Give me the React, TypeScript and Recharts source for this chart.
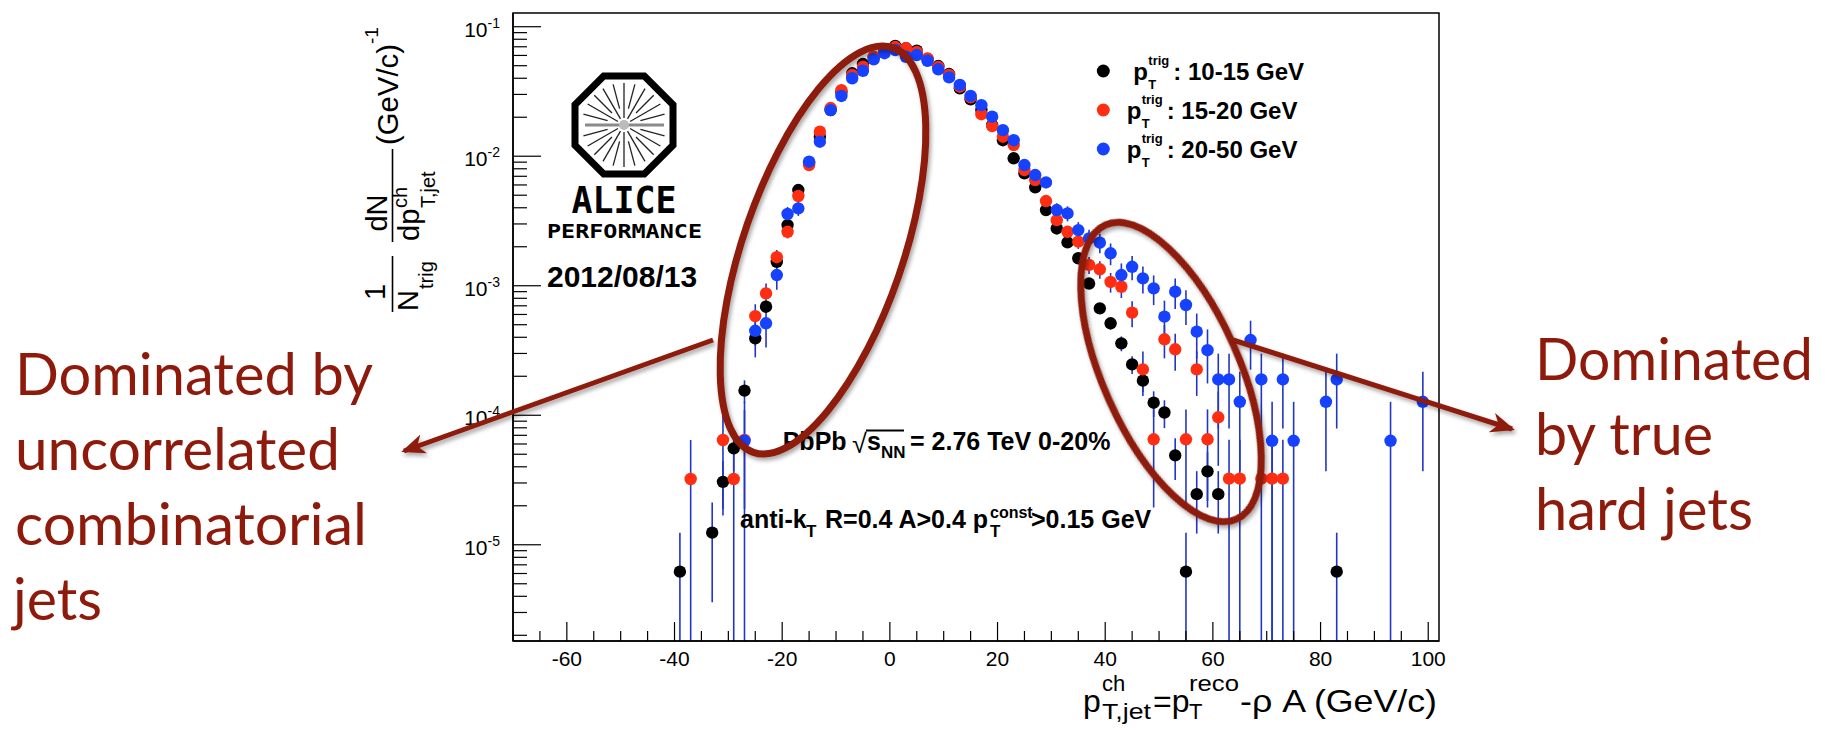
import React from 'react';
import { ScatterChart, Scatter, XAxis, YAxis, ErrorBar } from 'recharts';

const W = 1832;
const H = 734;
const X_MIN = -70;
const X_MAX = 102;
const Y_MIN = 1.807e-6;
const Y_MAX = 0.1276;

const ROOTF = "'Liberation Sans', Arial, Helvetica, sans-serif";
const NOTEF = "Lato, 'Open Sans', sans-serif";
const DARKRED = '#8e1a0c';
const C_BLACK = '#000000';
const C_RED = '#ff2e12';
const C_BLUE = '#1541ff';
const C_ERR = '#2136c4';

// ---- tick values ----
const xTicks = [-70, -65, -60, -55, -50, -45, -40, -35, -30, -25, -20, -15, -10, -5, 0, 5, 10, 15, 20, 25, 30, 35, 40, 45, 50, 55, 60, 65, 70, 75, 80, 85, 90, 95, 100];
const xLabelTicks = [-60, -40, -20, 0, 20, 40, 60, 80, 100];
const yTicks = [
  2e-6, 3e-6, 4e-6, 5e-6, 6e-6, 7e-6, 8e-6, 9e-6,
  1e-5, 2e-5, 3e-5, 4e-5, 5e-5, 6e-5, 7e-5, 8e-5, 9e-5,
  1e-4, 2e-4, 3e-4, 4e-4, 5e-4, 6e-4, 7e-4, 8e-4, 9e-4,
  1e-3, 2e-3, 3e-3, 4e-3, 5e-3, 6e-3, 7e-3, 8e-3, 9e-3,
  1e-2, 2e-2, 3e-2, 4e-2, 5e-2, 6e-2, 7e-2, 8e-2, 9e-2,
  1e-1,
];
const yMajorTicks = [1e-5, 1e-4, 1e-3, 1e-2, 1e-1];
const yMajorExp = ['-5', '-4', '-3', '-2', '-1'];

// ---- series: p_T^trig 10-15 GeV (black) ----
const blackX = [
  -39, -33, -31, -29, -27, -25, -23, -21, -19, -17, -15, -13, -11, -9, -7, -5, -3, -1,
  1, 3, 5, 7, 9, 11, 13, 15, 17, 19, 21, 23, 25, 27, 29, 31, 33, 35, 37, 39, 41, 43, 45, 47, 49, 51, 53, 55, 57, 59, 61,
  83,
];
const blackY = [
  6.2e-6, 1.24e-5, 3.06e-5, 5.55e-5, 1.55e-4, 3.93e-4, 6.89e-4, 1.53e-3, 2.94e-3, 5.48e-3, 8.87e-3, 1.415e-2, 2.27e-2, 3.13e-2, 4.37e-2, 5.15e-2, 5.83e-2, 6.53e-2,
  7.1e-2, 6.81e-2, 6.53e-2, 5.63e-2, 4.97e-2, 4.31e-2, 3.34e-2, 2.75e-2, 2.27e-2, 1.74e-2, 1.33e-2, 9.64e-3, 7.38e-3, 5.75e-3, 3.84e-3, 2.77e-3, 2.16e-3, 1.63e-3, 1.04e-3, 6.69e-4, 5.13e-4, 3.59e-4, 2.47e-4, 1.85e-4, 1.25e-4, 1.05e-4, 4.9e-5, 6.2e-6, 2.46e-5, 3.69e-5, 2.46e-5,
  6.2e-6,
];
const blackErr = [
  6.2e-6, 8.8e-6, 1.38e-5, 1.85e-5, 3.1e-5, 4.9e-5, 6.5e-5, 9.7e-5, 1.35e-4, 1.84e-4, 2.3e-4, 3e-4, 3.75e-4, 4.4e-4, 5.2e-4, 5.7e-4, 6e-4, 6.4e-4,
  6.6e-4, 6.5e-4, 6.4e-4, 5.9e-4, 5.6e-4, 5.2e-4, 4.6e-4, 4.1e-4, 3.75e-4, 3.3e-4, 2.9e-4, 2.4e-4, 2.1e-4, 1.9e-4, 1.54e-4, 1.31e-4, 1.16e-4, 1e-4, 8e-5, 6.4e-5, 5.6e-5, 4.7e-5, 3.9e-5, 3.4e-5, 2.8e-5, 2.55e-5, 1.74e-5, 6.2e-6, 1.24e-5, 1.51e-5, 1.24e-5,
  6.2e-6,
];

// ---- series: p_T^trig 15-20 GeV (red) ----
const redX = [
  -37, -31, -29, -27, -25, -23, -21, -19, -17, -15, -13, -11, -9, -7, -5, -3, -1,
  1, 3, 5, 7, 9, 11, 13, 15, 17, 19, 21, 23, 25, 27, 29, 31, 33, 35, 37, 39, 41, 43, 45, 47, 49, 51, 53, 55, 57, 59, 61,
  63, 65, 69, 71, 73,
];
const redY = [
  3.22e-5, 6.44e-5, 3.22e-5, 6.44e-5, 5.83e-4, 8.73e-4, 1.66e-3, 2.61e-3, 4.93e-3, 8.55e-3, 1.545e-2, 2.355e-2, 3.24e-2, 4.24e-2, 4.91e-2, 5.86e-2, 6.69e-2,
  6.97e-2, 6.81e-2, 6.38e-2, 5.7e-2, 4.89e-2, 4.24e-2, 3.44e-2, 2.85e-2, 2.11e-2, 1.71e-2, 1.415e-2, 1.22e-2, 7.82e-3, 6.55e-3, 4.51e-3, 3.21e-3, 2.61e-3, 2.19e-3, 1.45e-3, 1.34e-3, 1.07e-3, 9.82e-4, 6.19e-4, 2.26e-4, 6.52e-5, 3.86e-4, 3.23e-4, 6.52e-5, 2.26e-4, 6.52e-5, 9.64e-5,
  3.24e-5, 3.24e-5, 3.24e-5, 3.24e-5, 3.24e-5,
];
const redErr = [
  3.22e-5, 4.55e-5, 3.22e-5, 4.55e-5, 1.37e-4, 1.68e-4, 2.31e-4, 2.9e-4, 3.98e-4, 5.2e-4, 7.1e-4, 8.7e-4, 1.02e-3, 1.17e-3, 1.26e-3, 1.37e-3, 1.47e-3,
  1.5e-3, 1.48e-3, 1.43e-3, 1.35e-3, 1.25e-3, 1.17e-3, 1.05e-3, 9.6e-4, 8.2e-4, 7.4e-4, 6.75e-4, 6.3e-4, 5e-4, 4.6e-4, 3.8e-4, 3.2e-4, 2.9e-4, 2.66e-4, 2.16e-4, 2.08e-4, 1.86e-4, 1.78e-4, 1.41e-4, 8.5e-5, 4.58e-5, 1.11e-4, 1.02e-4, 4.58e-5, 8.5e-5, 4.58e-5, 5.57e-5,
  3.24e-5, 3.24e-5, 3.24e-5, 3.24e-5, 3.24e-5,
];

// ---- series: p_T^trig 20-50 GeV (blue) ----
const blueX = [
  -27, -25, -23, -21, -19, -17, -15, -13, -11, -9, -7, -5, -3, -1,
  1, 3, 5, 7, 9, 11, 13, 15, 17, 19, 21, 23, 25, 27, 29, 31, 33, 35, 37, 39, 41, 43, 45, 47, 49, 51, 53, 55, 57, 59, 61, 63, 65, 67, 69, 71, 73, 75,
  81, 83, 93, 99,
];
const blueY = [
  6.35e-5, 4.49e-4, 5.13e-4, 1.21e-3, 3.58e-3, 3.96e-3, 9.07e-3, 1.294e-2, 2.27e-2, 2.92e-2, 4e-2, 4.57e-2, 5.6e-2, 6.24e-2,
  6.61e-2, 5.86e-2, 6.04e-2, 5.46e-2, 4.69e-2, 4.06e-2, 3.55e-2, 2.92e-2, 2.48e-2, 2.02e-2, 1.59e-2, 1.33e-2, 8.55e-3, 7.16e-3, 6.28e-3, 3.84e-3, 3.62e-3, 2.69e-3, 2.32e-3, 2.15e-3, 1.78e-3, 1.21e-3, 1.4e-3, 1.14e-3, 9.55e-4, 5.77e-4, 8.99e-4, 7.1e-4, 4.42e-4, 3.18e-4, 1.89e-4, 1.89e-4, 1.27e-4, 3.81e-4, 1.89e-4, 6.35e-5, 1.89e-4, 6.35e-5,
  1.27e-4, 1.89e-4, 6.35e-5, 1.27e-4,
];
const blueErr = [
  6.35e-5, 1.69e-4, 1.8e-4, 2.77e-4, 4.77e-4, 5e-4, 7.6e-4, 9.1e-4, 1.2e-3, 1.36e-3, 1.59e-3, 1.7e-3, 1.89e-3, 1.99e-3,
  2.05e-3, 1.93e-3, 1.96e-3, 1.86e-3, 1.73e-3, 1.6e-3, 1.5e-3, 1.36e-3, 1.25e-3, 1.13e-3, 1e-3, 9.2e-4, 7.4e-4, 6.7e-4, 6.3e-4, 4.9e-4, 4.8e-4, 4.1e-4, 3.8e-4, 3.7e-4, 3.4e-4, 2.77e-4, 2.98e-4, 2.69e-4, 2.46e-4, 1.91e-4, 2.39e-4, 2.12e-4, 1.68e-4, 1.42e-4, 1.1e-4, 1.1e-4, 9e-5, 1.56e-4, 1.1e-4, 6.35e-5, 1.1e-4, 6.35e-5,
  9e-5, 1.1e-4, 6.35e-5, 9e-5,
];

const legendLabels = [': 10-15 GeV', ': 15-20 GeV', ': 20-50 GeV'];

type Pt = { x: number; y: number; e: [number, number] };
const buildSeries = (xs: number[], ys: number[], es: number[]): Pt[] =>
  xs.map((x, i) => ({ x, y: ys[i], e: [Math.min(es[i], ys[i] - Y_MIN), es[i]] }));

const blackData = buildSeries(blackX, blackY, blackErr);
const redData = buildSeries(redX, redY, redErr);
const blueData = buildSeries(blueX, blueY, blueErr);

const dot = (color: string) => (p: any) =>
  p.cx == null || p.cy == null ? <g /> : <circle cx={p.cx} cy={p.cy} r={6.2} fill={color} />;

const XTick = (p: any) => {
  const v = p.payload.value;
  const major = xLabelTicks.indexOf(v) >= 0;
  return (
    <g>
      <line x1={p.x} x2={p.x} y1={p.y} y2={p.y - (major ? 19 : 10)} stroke="#000" strokeWidth={1.2} />
      {major && (
        <text x={p.x} y={p.y + 25} textAnchor="middle" fontSize={21} fontFamily={ROOTF} fill="#000">
          {v}
        </text>
      )}
    </g>
  );
};

const YTick = (p: any) => {
  const v = p.payload.value;
  const idx = yMajorTicks.findIndex((m) => Math.abs(m - v) / m < 1e-6);
  const major = idx >= 0;
  return (
    <g>
      <line x1={p.x} x2={p.x + (major ? 28 : 14)} y1={p.y} y2={p.y} stroke="#000" strokeWidth={1.2} />
      {major && (
        <text x={p.x - 13} y={p.y + 10} textAnchor="end" fontSize={21} fontFamily={ROOTF} fill="#000">
          10<tspan dy={-9} fontSize={14}>{yMajorExp[idx]}</tspan>
        </text>
      )}
    </g>
  );
};

const RT = ({ X, Y, size, anchor, len, children }: any) => (
  <text
    transform={`translate(${X},${Y}) rotate(-90)`}
    fontSize={size}
    textAnchor={anchor || 'start'}
    fontFamily={ROOTF}
    fill="#000"
    {...(len ? { textLength: len, lengthAdjust: 'spacingAndGlyphs' } : {})}
  >
    {children}
  </text>
);

const Logo = () => {
  const cx = 624;
  const cy = 125;
  const R = 53;
  const pts: string[] = [];
  for (let k = 0; k < 8; k++) {
    const a = ((22.5 + 45 * k) * Math.PI) / 180;
    pts.push(`${(cx + R * Math.cos(a)).toFixed(1)},${(cy + R * Math.sin(a)).toFixed(1)}`);
  }
  const spokes: React.ReactNode[] = [];
  for (let k = 0; k < 24; k++) {
    if (k === 0 || k === 12) continue;
    const a = (k * 15 * Math.PI) / 180;
    const r0 = k % 2 === 0 ? 7 : 17;
    const r1 = 42;
    spokes.push(
      <line
        key={k}
        x1={cx + r0 * Math.cos(a)}
        y1={cy + r0 * Math.sin(a)}
        x2={cx + r1 * Math.cos(a)}
        y2={cy + r1 * Math.sin(a)}
        stroke="#222"
        strokeWidth={1.3}
      />
    );
  }
  return (
    <g>
      <polygon points={pts.join(' ')} fill="#fff" stroke="#000" strokeWidth={7} />
      {spokes}
      <line x1={585} x2={664} y1={cy} y2={cy} stroke="#8a8a8a" strokeWidth={3} />
      <circle cx={cx} cy={cy} r={5} fill="#bbb" />
      <text x={624} y={213} textAnchor="middle" fontSize={38} fontWeight="bold" fontFamily="'DejaVu Sans Mono', monospace" textLength={105} lengthAdjust="spacingAndGlyphs" fill="#000">
        ALICE
      </text>
      <text x={624.5} y={238} textAnchor="middle" fontSize={19} fontWeight="bold" fontFamily="'DejaVu Sans Mono', monospace" textLength={155} lengthAdjust="spacingAndGlyphs" fill="#000">
        PERFORMANCE
      </text>
      <text x={547} y={287} fontSize={30} fontWeight="bold" fontFamily={ROOTF} fill="#000">
        2012/08/13
      </text>
    </g>
  );
};

const Overlay = () => {
  const legendY = [80, 119, 158];
  const legendColors = [C_BLACK, C_RED, C_BLUE];
  return (
    <svg width={W} height={H} style={{ position: 'absolute', left: 0, top: 0 }}>
      <defs>
        <filter id="shadow" x="-20%" y="-20%" width="140%" height="140%">
          <feDropShadow dx="2" dy="3" stdDeviation="2" floodColor="#000" floodOpacity="0.35" />
        </filter>
        <marker id="ahead" markerUnits="userSpaceOnUse" markerWidth="26" markerHeight="22" refX="21" refY="10" orient="auto">
          <path d="M0,0 L24,10 L0,20 L7,10 Z" fill={DARKRED} />
        </marker>
      </defs>

      {/* frame */}
      <rect x={513} y={13} width={926} height={628} fill="none" stroke="#000" strokeWidth={1.5} />

      {/* y-axis title: 1/N_trig dN/dp^ch_T,jet (GeV/c)^-1 */}
      <RT X={385} Y={292} size={29} anchor="middle">1</RT>
      <line x1={392.5} x2={392.5} y1={256} y2={312} stroke="#000" strokeWidth={1.6} />
      <RT X={418} Y={311} size={29}>N</RT>
      <RT X={433} Y={289} size={20}>trig</RT>
      <RT X={387} Y={213} size={29} anchor="middle">dN</RT>
      <line x1={392.5} x2={392.5} y1={149} y2={242} stroke="#000" strokeWidth={1.6} />
      <RT X={419} Y={241} size={29}>dp</RT>
      <RT X={407} Y={208} size={20}>ch</RT>
      <RT X={435} Y={208} size={20}>T,jet</RT>
      <RT X={398} Y={145} size={29} len={101}>(GeV/c)</RT>
      <RT X={378} Y={44} size={19}>-1</RT>

      {/* x-axis title */}
      <g fontFamily={ROOTF} fill="#000">
        <text x={1083} y={712} fontSize={32}>p</text>
        <text x={1102} y={691} fontSize={22}>ch</text>
        <text x={1102} y={719} fontSize={22} textLength={49} lengthAdjust="spacingAndGlyphs">T,jet</text>
        <text x={1153} y={712} fontSize={32}>=p</text>
        <text x={1189} y={691} fontSize={22} textLength={50} lengthAdjust="spacingAndGlyphs">reco</text>
        <text x={1189} y={719} fontSize={22}>T</text>
        <text x={1240} y={712} fontSize={32} textLength={197} lengthAdjust="spacingAndGlyphs">-ρ A (GeV/c)</text>
      </g>

      <Logo />

      {/* legend */}
      {legendColors.map((c, i) => (
        <circle key={'lc' + i} cx={1103.3} cy={legendY[i] - 9} r={6.5} fill={c} />
      ))}
      {legendLabels.map((lab, i) => {
        const x0 = i === 0 ? 1133.3 : 1126.7;
        const y0 = legendY[i];
        return (
          <g key={'lt' + i} fontFamily={ROOTF} fontWeight="bold" fill="#000">
            <text x={x0} y={y0} fontSize={24}>p</text>
            <text x={x0 + 15} y={y0 - 15} fontSize={13}>trig</text>
            <text x={x0 + 15} y={y0 + 9} fontSize={13}>T</text>
            <text x={x0 + 40} y={y0} fontSize={24}>{lab}</text>
          </g>
        );
      })}

      {/* system annotations */}
      <g fontFamily={ROOTF} fontWeight="bold" fill="#000">
        <text x={782.7} y={450} fontSize={25}>PbPb</text>
        <text x={852} y={453} fontSize={27} fontWeight="normal">√</text>
        <line x1={866} x2={904} y1={430.5} y2={430.5} stroke="#000" strokeWidth={1.8} />
        <text x={867} y={450} fontSize={25}>s</text>
        <text x={881} y={458} fontSize={17}>NN</text>
        <text x={910} y={450} fontSize={25}>= 2.76 TeV 0-20%</text>

        <text x={740} y={528} fontSize={25}>anti-k</text>
        <text x={806} y={537} fontSize={17}>T</text>
        <text x={825} y={528} fontSize={25}>R=0.4 A&gt;0.4 p</text>
        <text x={990} y={518} fontSize={16}>const</text>
        <text x={990} y={537} fontSize={17}>T</text>
        <text x={1031} y={528} fontSize={25}>&gt;0.15 GeV</text>
      </g>

      {/* highlight ellipses and arrows */}
      <g filter="url(#shadow)">
        <ellipse cx={823} cy={250} rx={80} ry={214} transform="rotate(19 823 250)" fill="none" stroke={DARKRED} strokeWidth={7} />
        <ellipse cx={1171} cy={372} rx={68} ry={161} transform="rotate(-24 1171 372)" fill="none" stroke={DARKRED} strokeWidth={7} />
        <line x1={713} y1={340} x2={404} y2={451} stroke={DARKRED} strokeWidth={5} markerEnd="url(#ahead)" />
        <line x1={1233} y1={340} x2={1512} y2={429} stroke={DARKRED} strokeWidth={5} markerEnd="url(#ahead)" />
      </g>

      {/* side notes */}
      <g fontFamily={NOTEF} fill={DARKRED} fontSize={58}>
        <text x={15} y={395} textLength={358} lengthAdjust="spacingAndGlyphs">Dominated by</text>
        <text x={15} y={470} textLength={325} lengthAdjust="spacingAndGlyphs">uncorrelated</text>
        <text x={15} y={545} textLength={352} lengthAdjust="spacingAndGlyphs">combinatorial</text>
        <text x={13} y={620} textLength={89} lengthAdjust="spacingAndGlyphs">jets</text>
        <text x={1535} y={380} textLength={278} lengthAdjust="spacingAndGlyphs">Dominated</text>
        <text x={1535} y={455} textLength={178} lengthAdjust="spacingAndGlyphs">by true</text>
        <text x={1535} y={530} textLength={218} lengthAdjust="spacingAndGlyphs">hard jets</text>
      </g>
    </svg>
  );
};

export default function App() {
  return (
    <div style={{ position: 'absolute', left: 0, top: 0, width: W, height: H, background: '#fff', overflow: 'hidden' }}>
      <div style={{ position: 'absolute', left: 0, top: 0 }}>
        <ScatterChart width={W} height={H} margin={{ top: 13, right: 393, bottom: 0, left: 0 }}>
          <XAxis
            type="number"
            dataKey="x"
            domain={[X_MIN, X_MAX]}
            ticks={xTicks}
            interval={0}
            allowDataOverflow
            height={93}
            tickSize={0}
            tickMargin={0}
            tickLine={false}
            axisLine={{ stroke: '#000', strokeWidth: 1.5 }}
            tick={(p: any) => <XTick {...p} />}
          />
          <YAxis
            type="number"
            dataKey="y"
            scale="log"
            domain={[Y_MIN, Y_MAX]}
            ticks={yTicks}
            interval={0}
            allowDataOverflow
            width={513}
            tickSize={0}
            tickMargin={0}
            tickLine={false}
            axisLine={{ stroke: '#000', strokeWidth: 1.5 }}
            tick={(p: any) => <YTick {...p} />}
          />
          <Scatter data={blackData} isAnimationActive={false} shape={dot(C_BLACK)}>
            <ErrorBar dataKey="e" direction="y" width={0} stroke={C_ERR} strokeWidth={1.6} isAnimationActive={false} />
          </Scatter>
          <Scatter data={redData} isAnimationActive={false} shape={dot(C_RED)}>
            <ErrorBar dataKey="e" direction="y" width={0} stroke={C_ERR} strokeWidth={1.6} isAnimationActive={false} />
          </Scatter>
          <Scatter data={blueData} isAnimationActive={false} shape={dot(C_BLUE)}>
            <ErrorBar dataKey="e" direction="y" width={0} stroke={C_ERR} strokeWidth={1.6} isAnimationActive={false} />
          </Scatter>
        </ScatterChart>
      </div>
      <Overlay />
    </div>
  );
}
